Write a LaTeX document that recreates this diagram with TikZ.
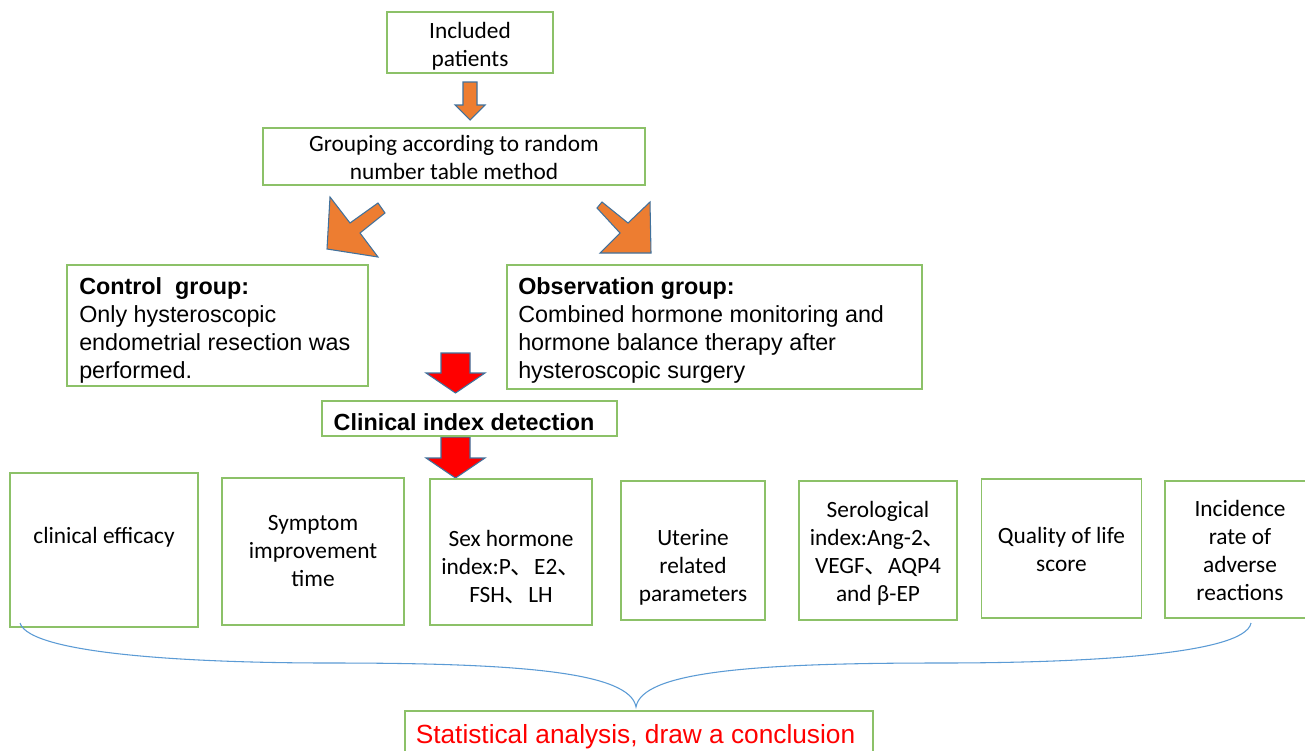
\documentclass[tikz,border=0pt]{standalone}
\usepackage{fontspec}
\setmainfont{Liberation Sans}
\newfontfamily\carl{Carlito}
\newfontfamily\ari{Liberation Sans}
\newfontfamily\cjkf{Noto Sans CJK SC}
\newcommand{\dunhao}{{\cjkf 、}}
\definecolor{bxgreen}{HTML}{8CC168}
\definecolor{orgfill}{HTML}{ED7D31}
\definecolor{outl}{HTML}{41719C}
\definecolor{bracec}{HTML}{5B9BD5}
\definecolor{redfill}{HTML}{FF0000}
\begin{document}
\begin{tikzpicture}[x=0.75pt,y=-0.75pt,
  box/.style={draw=bxgreen, line width=1pt, fill=white, inner sep=0pt, rectangle},
  ctext/.style={inner sep=0pt, align=center, font={\carl\fontsize{17.5}{21}\selectfont}},
  atext/.style={inner sep=0pt, align=left, font={\ari\fontsize{17.5}{21}\selectfont}},
  oarrow/.style={fill=orgfill, draw=outl, line width=0.8pt, line join=miter},
  rarrow/.style={fill=redfill, draw=outl, line width=0.8pt, line join=miter},
  bracel/.style={draw=bracec, line width=0.8pt}]
\useasboundingbox (0,0) rectangle (1305,750);
\clip (0,0) rectangle (1305,750);
\fill[white] (0,0) rectangle (1305,750);

% block arrows (shapes)
\filldraw[oarrow] (463,82) -- (477,82) -- (477,105) -- (485,105) -- (470,120) -- (455,105) -- (463,105) -- cycle;
\filldraw[oarrow] (378,203) -- (385,213) -- (360,233) -- (378,257) -- (327,249) -- (330,197) -- (350,223) -- cycle;
\filldraw[oarrow] (602,202) -- (628,223) -- (650,202) -- (651,253) -- (600,253) -- (620,233) -- (597,208) -- cycle;
\filldraw[rarrow] (441,353) -- (470,353) -- (470,373) -- (485,373) -- (455.5,393) -- (426,373) -- (441,373) -- cycle;
\filldraw[rarrow] (441,437) -- (470,437) -- (470,458) -- (485,458) -- (455.5,478) -- (426,458) -- (441,458) -- cycle;

% boxes
\node[box, minimum width=124.5pt, minimum height=45.75pt] (inc) at (470,42.5) {};
\node[ctext, anchor=north] (inct) at (470,22) {Included\\patients};

\node[box, minimum width=286.5pt, minimum height=42.75pt] (grp) at (454,156.5) {};
\node[ctext, anchor=north] (grpt) at (454,135) {Grouping according to random\\number table method};

\node[box, minimum width=225.75pt, minimum height=90.75pt] (ctl) at (217.5,325.5) {};
\node[atext, anchor=north west] (ctlt) at (79,277) {\textbf{Control\ \ group:}\\Only hysteroscopic\\endometrial resection was\\performed.};

\node[box, minimum width=311.25pt, minimum height=93pt] (obs) at (714.5,327) {};
\node[atext, anchor=north west] (obst) at (518,277) {\textbf{Observation group:}\\Combined hormone monitoring and\\hormone balance therapy after\\hysteroscopic surgery};

\node[box, minimum width=221.25pt, minimum height=26.25pt] (cid) at (469.5,418.5) {};
\node[atext, anchor=base, font={\ari\bfseries\fontsize{17.5}{21}\selectfont}] (cidt) at (464,430) {Clinical index detection};

\node[box, minimum width=141pt, minimum height=115.5pt] (b1) at (104,550) {};
\node[ctext, anchor=base] (b1t) at (104,543) {clinical efficacy};

\node[box, minimum width=136.5pt, minimum height=110.25pt] (b2) at (313,551.5) {};
\node[ctext, anchor=north] (b2t) at (313,515) {Symptom\\improvement\\time};

\node[box, minimum width=121.5pt, minimum height=109.5pt] (b3) at (511,552) {};
\node[ctext, anchor=north] (b3t) at (511,530) {Sex hormone\\index:P\dunhao E2\dunhao\\FSH\dunhao LH};

\node[box, minimum width=108pt, minimum height=104.25pt] (b4) at (693,550.5) {};
\node[ctext, anchor=north] (b4t) at (693,529) {Uterine\\related\\parameters};

\node[box, minimum width=118.5pt, minimum height=104.25pt] (b5) at (878,550.5) {};
\node[ctext, anchor=north] (b5t) at (878,501) {Serological\\index:Ang-2\dunhao\\VEGF\dunhao AQP4\\and β-EP};

\node[box, minimum width=120pt, minimum height=104.25pt] (b6) at (1061.5,548.5) {};
\node[ctext, anchor=north] (b6t) at (1061.5,527) {Quality of life\\score};

\node[box, minimum width=112.5pt, minimum height=102.75pt] (b7) at (1240,549.5) {};
\node[ctext, anchor=north] (b7t) at (1240,500) {Incidence\\rate of\\adverse\\reactions};

\node[box, minimum width=351pt, minimum height=45pt] (stat) at (639,741) {};
\node[inner sep=0pt, anchor=base, text=redfill, font={\ari\fontsize{19.7}{24}\selectfont}] (statt) at (635.5,743) {Statistical analysis, draw a conclusion};

% brace
\coordinate (bl) at (20,623);
\coordinate (br) at (1251,623);
\coordinate (btip) at (636,707);
\draw[bracel] (bl) .. controls (30,655) and (200,663) .. (330,663)
  .. controls (520,663) and (630,672) .. (btip)
  .. controls (642,672) and (750,663) .. (940,663)
  .. controls (1080,663) and (1245,655) .. (br);
\end{tikzpicture}
\end{document}
